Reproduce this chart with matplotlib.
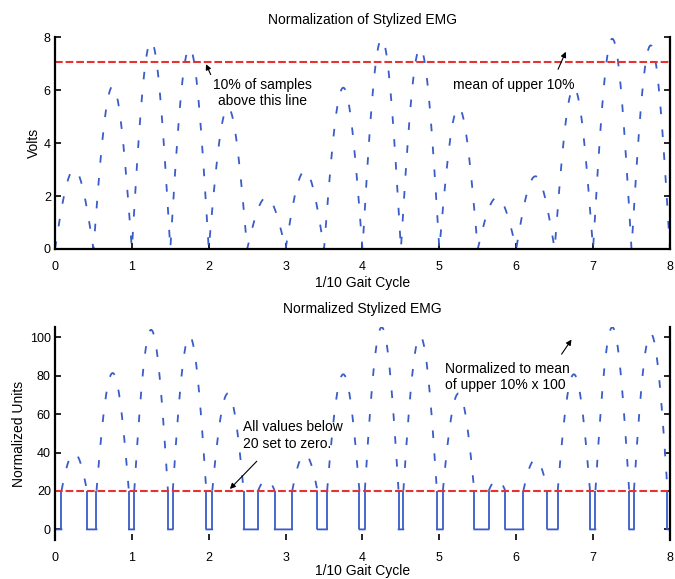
import numpy as np
import matplotlib.pyplot as plt

plt.rcParams['font.family'] = ['Liberation Sans', 'DejaVu Sans']

# peak of each rectified hump (volts), one hump per half unit of the cycle axis
hump_peaks = np.array([3.0, 6.15, 7.85, 7.6, 5.35, 1.95,
                       2.95, 6.1, 7.95, 7.6, 5.35, 1.95,
                       2.75, 6.1, 7.95, 7.7])
hump_width = 0.5
x_ticks = [0, 1, 2, 3, 4, 5, 6, 7, 8]
volt_ticks = [0, 2, 4, 6, 8]
norm_ticks = [0, 20, 40, 60, 80, 100]
cutoff = 20

# stylized EMG: rectified carrier scaled by the hump peaks
t = np.linspace(0, 8, 8001)
idx = np.minimum((t / hump_width).astype(int), len(hump_peaks) - 1)
emg = hump_peaks[idx] * np.abs(np.sin(np.pi * t / hump_width))

thresh = np.percentile(emg, 90)
upper_mean = emg[emg >= thresh].mean()
emg_norm = emg / upper_mean * 100
emg_norm[emg_norm < cutoff] = 0

blue = '#3a5cc8'
red = '#e83232'
sig_dash = (4.2, 8.5)

fig = plt.figure(figsize=(6.75, 5.79), dpi=100)
ax1 = fig.add_axes([0.0815, 0.570, 0.911, 0.3653])
ax2 = fig.add_axes([0.0815, 0.0674, 0.911, 0.3674])

for ax in (ax1, ax2):
    ax.spines['top'].set_visible(False)
    for s in ('left', 'right', 'bottom'):
        ax.spines[s].set_linewidth(1.6)
    ax.tick_params(direction='in', length=4, width=1.2, right=True, labelsize=9)
    ax.tick_params(axis='x', pad=9)
    ax.tick_params(axis='y', pad=3)
    ax.set_xlim(0, 8)
    ax.set_xticks(x_ticks)

# top: raw signal and the 90th percentile
ax1.plot(t, emg, color=blue, lw=1.3, dashes=sig_dash)
ax1.axhline(thresh, color=red, lw=1.5, dashes=(3.7, 1.4))
ax1.set_ylim(0, 8)
ax1.set_yticks(volt_ticks)
ax1.set_title('Normalization of Stylized EMG', fontsize=10, pad=10)
ax1.set_xlabel('1/10 Gait Cycle', fontsize=10, labelpad=2)
ax1.set_ylabel('Volts', fontsize=10, labelpad=2)

ax1.annotate('', xy=(1.95, thresh), xytext=(2.04, 6.5),
             arrowprops=dict(arrowstyle='-|>', color='black', lw=0.8, mutation_scale=8))
ax1.text(2.7, 5.9, '10% of samples\nabove this line', ha='center', va='center',
         multialignment='center', fontsize=10)
ax1.annotate('', xy=(6.66, upper_mean), xytext=(6.53, 6.7),
             arrowprops=dict(arrowstyle='-|>', color='black', lw=0.8, mutation_scale=8))
ax1.text(5.97, 6.2, 'mean of upper 10%', ha='center', va='center', fontsize=10)

# bottom: normalized signal with low values zeroed
on = emg_norm > 0
ax2.plot(t, np.where(on, emg_norm, np.nan), color=blue, lw=1.3, dashes=sig_dash)
ax2.plot(t, np.where(on, np.nan, 0.0), color=blue, lw=1.3)
cross = np.nonzero(on[1:] != on[:-1])[0]
ax2.vlines(t[cross], 0, cutoff, color=blue, lw=1.3)
ax2.axhline(cutoff, color=red, lw=1.5, dashes=(3.7, 1.4))
ax2.spines['bottom'].set_visible(False)
ax2.set_ylim(-5.5, emg_norm.max())
ax2.set_yticks(norm_ticks)
ax2.set_title('Normalized Stylized EMG', fontsize=10, pad=10)
ax2.set_xlabel('1/10 Gait Cycle', fontsize=10, labelpad=0)
ax2.set_ylabel('Normalized Units', fontsize=10, labelpad=3)

ax2.annotate('', xy=(6.74, 100), xytext=(6.57, 90),
             arrowprops=dict(arrowstyle='-|>', color='black', lw=0.8, mutation_scale=8))
ax2.text(5.88, 79.4, 'Normalized to mean\nof upper 10% x 100', ha='center', va='center',
         multialignment='left', fontsize=10)
ax2.annotate('', xy=(2.25, cutoff), xytext=(2.65, 36.5),
             arrowprops=dict(arrowstyle='-|>', color='black', lw=0.8, mutation_scale=8))
ax2.text(3.09, 48.9, 'All values below\n20 set to zero.', ha='center', va='center',
         multialignment='left', fontsize=10)

fig.savefig('out.png', dpi=100)
